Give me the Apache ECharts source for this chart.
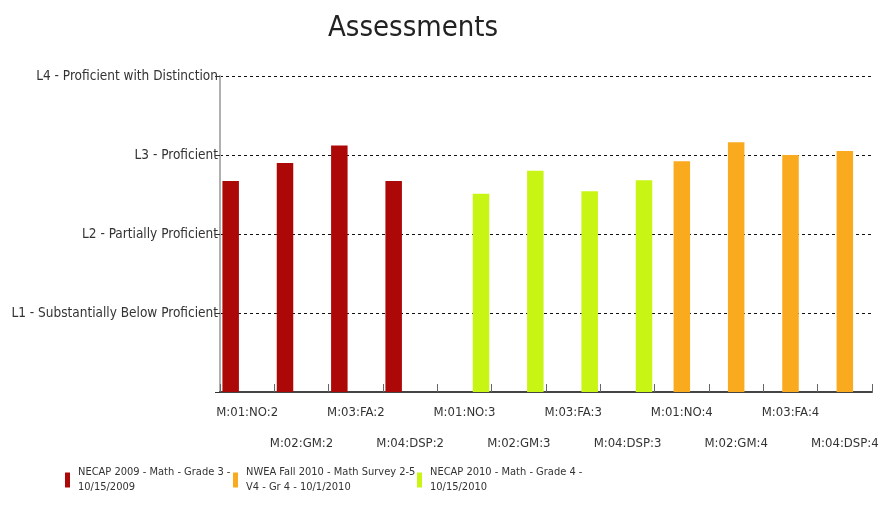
<!DOCTYPE html>
<html>
<head>
<meta charset="utf-8">
<script src="https://cdn.jsdelivr.net/npm/echarts@6/dist/echarts.min.js"></script>
<style>
html,body{margin:0;padding:0;background:#fff;}
#chart{width:883px;height:516px;}
</style>
</head>
<body>
<div id="chart"></div>
<script>
var categories = ['M:01:NO:2','M:02:GM:2','M:03:FA:2','M:04:DSP:2','M:01:NO:3','M:02:GM:3','M:03:FA:3','M:04:DSP:3','M:01:NO:4','M:02:GM:4','M:03:FA:4','M:04:DSP:4'];
var levelLabels = ['', 'L1 - Substantially Below Proficient', 'L2 - Partially Proficient', 'L3 - Proficient', 'L4 - Proficient with Distinction'];
var necap2009Values = [2.67, 2.90, 3.12, 2.67];
var nweaValues = [2.92, 3.16, 3.00, 3.05];
var necap2010Values = [2.51, 2.80, 2.54, 2.68];
var seriesNames = ['NECAP 2009 - Math - Grade 3 - 10/15/2009', 'NWEA Fall 2010 - Math Survey 2-5 V4 - Gr 4 - 10/1/2010', 'NECAP 2010 - Math - Grade 4 - 10/15/2010'];
var legendLines = [['NECAP 2009 - Math - Grade 3 -', '10/15/2009'], ['NWEA Fall 2010 - Math Survey 2-5', 'V4 - Gr 4 - 10/1/2010'], ['NECAP 2010 - Math - Grade 4 -', '10/15/2010']];

function place(values, start) {
  var out = categories.map(function () { return '-'; });
  values.forEach(function (v, i) { out[start + i] = v; });
  return out;
}

var FONT = "'DejaVu Sans Condensed', 'Liberation Sans Narrow', 'Liberation Sans', sans-serif";
var colors = ['#ad0808', '#f9aa1e', '#c9f514'];

var chart = echarts.init(document.getElementById('chart'), null, {renderer: 'canvas'});
function legendFor(i, left) {
  return {
    left: left, top: 455, orient: 'horizontal',
    itemWidth: 5, itemHeight: 15, itemGap: 0,
    icon: 'rect',
    data: [seriesNames[i]],
    formatter: function () { return legendLines[i].join('\n'); },
    textStyle: {fontFamily: FONT, fontSize: 11, color: '#333', lineHeight: 15, padding: [10, 0, 0, 3]},
    selectedMode: false
  };
}
var option = {
  animation: false,
  backgroundColor: '#fff',
  color: colors,
  title: {
    text: 'Assessments', left: 323, top: 9,
    textStyle: {fontFamily: FONT, fontSize: 29, fontWeight: 'normal', color: '#222'}
  },
  legend: [legendFor(0, 60), legendFor(1, 228), legendFor(2, 412)],
  grid: {left: 220, right: 11, top: 76, bottom: 124, containLabel: false},
  xAxis: {
    type: 'category',
    data: categories,
    axisLine: {lineStyle: {color: '#444', width: 2}},
    axisTick: {show: true, inside: true, length: 8, lineStyle: {color: '#666'}},
    axisLabel: {
      interval: 0, margin: 5, fontFamily: FONT, fontSize: 13, color: '#333', lineHeight: 31,
      formatter: function (v, i) { return i % 2 ? '\n' + v : v; }
    }
  },
  yAxis: {
    type: 'value', min: 0, max: 4, interval: 1,
    axisLine: {show: true, lineStyle: {color: '#b0b0b0', width: 2}},
    axisTick: {show: true, length: 5, lineStyle: {color: '#333'}},
    axisLabel: {
      margin: 2, fontFamily: FONT, fontSize: 13.5, color: '#333',
      formatter: function (v) { return levelLabels[Math.round(v)]; }
    },
    splitLine: {show: true, lineStyle: {color: '#111', type: [3, 3], width: 1}}
  },
  series: [
    {name: seriesNames[0], type: 'bar', barWidth: 16.5, barGap: '0%', data: place(necap2009Values, 0)},
    {name: seriesNames[1], type: 'bar', barWidth: 16.5, barGap: '0%', data: place(nweaValues, 8)},
    {name: seriesNames[2], type: 'bar', barWidth: 16.5, barGap: '0%', data: place(necap2010Values, 4)}
  ]
};
chart.setOption(option);
</script>
</body>
</html>
